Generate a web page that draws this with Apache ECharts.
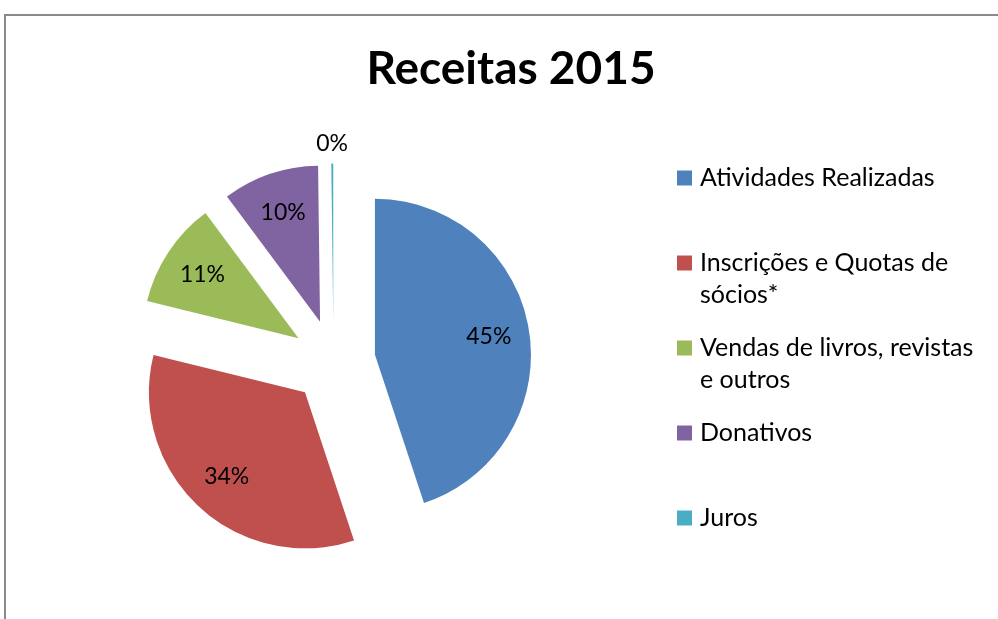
<!DOCTYPE html>
<html>
<head>
<meta charset="utf-8">
<script src="https://cdn.jsdelivr.net/npm/echarts@6/dist/echarts.min.js"></script>
<style>
  html, body { margin: 0; background: #fff; }
  #chart { width: 998px; height: 619px; }
</style>
</head>
<body>
<div id="chart"></div>
<script>
// dados
const categories = ['Atividades Realizadas', 'Inscrições e Quotas de sócios*', 'Vendas de livros, revistas e outros', 'Donativos', 'Juros'];
const values = [45, 34, 11, 10, 0.2];
const colors = ['#4F81BD', '#C0504D', '#9BBB59', '#8064A2', '#4BACC6'];
const legendLabels = ['Atividades Realizadas', 'Inscrições e Quotas de\nsócios*', 'Vendas de livros, revistas\ne outros', 'Donativos', 'Juros'];
// fatias cujo rótulo fica fora do círculo
const outsideLabels = ['Juros'];

const FONT = 'Lato';
const center = [333.5, 361.5];
const R = 156;
const LINE = 32;

const chart = echarts.init(document.getElementById('chart'));

// cada item da legenda ocupa 3 linhas, com a primeira linha de texto no meio (alinhada ao ícone)
function legendText(name) {
  const lines = legendLabels[categories.indexOf(name)].split('\n');
  if (lines.length === 1) lines.push('');
  return '\n' + lines.join('\n');
}

const pieBase = {
  type: 'pie',
  center: center,
  startAngle: 90,
  clockwise: true,
  selectedMode: 'multiple',
  selectedOffset: 42,
  avoidLabelOverlap: false,
  animation: false,
  emphasis: { disabled: true }
};

const labelStyle = {
  show: true,
  position: 'inside',
  color: '#000',
  fontFamily: FONT,
  fontSize: 23,
  formatter: p => Math.round(p.percent) + '%'
};

// série transparente que só serve para colocar rótulos
function labelSeries(name, radius, showFn) {
  return Object.assign({}, pieBase, {
    name: name,
    radius: radius,
    silent: true,
    itemStyle: { color: 'rgba(0,0,0,0)', borderWidth: 0 },
    labelLine: { show: false },
    label: labelStyle,
    data: categories.map((c, i) => ({
      name: c,
      value: values[i],
      selected: true,
      label: { show: showFn(c) }
    }))
  });
}

const option = {
  title: {
    text: 'Receitas 2015',
    left: 511,
    top: 46,
    padding: 0,
    textAlign: 'center',
    textStyle: { fontFamily: FONT, fontWeight: 'bold', fontSize: 46, color: '#000' }
  },
  graphic: [{
    type: 'rect',
    silent: true,
    z: -1,
    shape: { x: 5, y: 15, width: 1200, height: 800 },
    style: { fill: 'none', stroke: '#8a8a8a', lineWidth: 2 }
  }],
  legend: {
    orient: 'vertical',
    left: 677,
    top: 130,
    padding: 0,
    itemWidth: 15,
    itemHeight: 15,
    itemGap: 85 - 3 * LINE,
    icon: 'rect',
    selectedMode: false,
    formatter: legendText,
    textStyle: { fontFamily: FONT, fontSize: 25, color: '#000', lineHeight: LINE, padding: [0, 0, 0, 3] },
    data: categories
  },
  series: [
    Object.assign({}, pieBase, {
      name: 'Receitas',
      radius: [0, R],
      label: { show: false },
      labelLine: { show: false },
      itemStyle: { borderWidth: 0 },
      data: categories.map((name, i) => ({
        name: name,
        value: values[i],
        selected: true,
        itemStyle: { color: colors[i] }
      }))
    }),
    labelSeries('Rotulos', [R * 0.44, R], c => outsideLabels.indexOf(c) < 0),
    labelSeries('RotulosFora', [R, R * 1.22], c => outsideLabels.indexOf(c) >= 0)
  ]
};

chart.setOption(option);
</script>
</body>
</html>
